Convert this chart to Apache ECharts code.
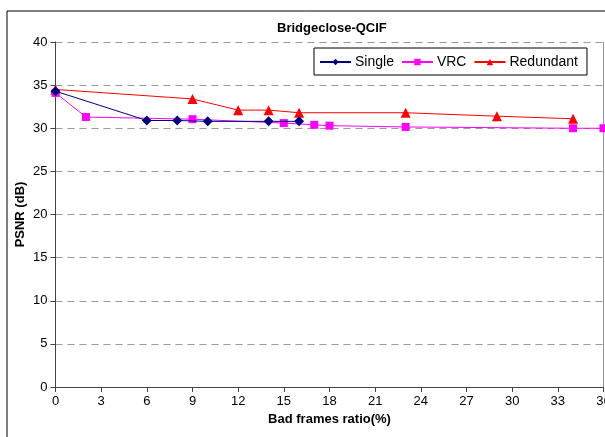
<!DOCTYPE html>
<html>
<head>
<meta charset="utf-8">
<script src="https://cdn.jsdelivr.net/npm/echarts@6/dist/echarts.min.js"></script>
<style>
  html, body { margin: 0; padding: 0; background: #fff; }
  #main { width: 605px; height: 437px; }
</style>
</head>
<body>
<div id="main"></div>
<script>
// data
var singleData = [[0, 34.3], [6, 30.9], [8, 30.9], [10, 30.8], [14, 30.8], [16, 30.8]];
var vrcData = [[0, 34.1], [2, 31.3], [9, 31.05], [15, 30.6], [17, 30.4], [18, 30.3], [23, 30.15], [34, 30.0], [36, 30.0]];
var redundantData = [[0, 34.5], [9, 33.4], [12, 32.1], [14, 32.1], [16, 31.8], [23, 31.8], [29, 31.4], [34, 31.1]];

var font = '"Liberation Sans", Arial, sans-serif';

(function () {
    var chart = echarts.init(document.getElementById('main'));

    chart.setOption({
        animation: false,
        backgroundColor: '#fff',
        textStyle: { fontFamily: font },
        title: {
            text: 'Bridgeclose-QCIF',
            left: 272,
            top: 17,
            textStyle: { fontFamily: font, fontSize: 13, fontWeight: 'bold', color: '#000' }
        },
        // outer chart frame
        graphic: [{
            type: 'rect',
            shape: { x: 7, y: 11, width: 640, height: 460 },
            style: { fill: null, stroke: '#000', lineWidth: 1 },
            silent: true
        }, {
            type: 'line',
            shape: { x1: 603.5, y1: 42, x2: 603.5, y2: 387 },
            style: { stroke: '#999', lineWidth: 1 },
            silent: true
        }],
        legend: {
            data: ['Single', 'VRC', 'Redundant'],
            left: 314,
            top: 48,
            padding: [7, 9, 6, 5],
            itemGap: 7,
            itemWidth: 31,
            itemHeight: 8,
            borderColor: '#000',
            borderWidth: 1,
            backgroundColor: '#fff',
            textStyle: { fontFamily: font, fontSize: 14, color: '#000', padding: [0, 0, 0, -1] }
        },
        grid: {
            left: 55.5,
            right: 1.5,
            top: 42,
            bottom: 50,
            containLabel: false,
            outerBoundsMode: 'none'
        },
        xAxis: {
            type: 'value',
            min: 0,
            max: 36,
            interval: 3,
            name: 'Bad frames ratio(%)',
            nameLocation: 'middle',
            nameGap: 25,
            nameTextStyle: { fontFamily: font, fontSize: 13, fontWeight: 'bold', color: '#000' },
            axisLine: { lineStyle: { color: '#444', width: 1 } },
            axisTick: { show: true, inside: false, length: 5, lineStyle: { color: '#444' } },
            axisLabel: { fontFamily: font, fontSize: 13, color: '#000', margin: 8 },
            splitLine: { show: false }
        },
        yAxis: {
            type: 'value',
            min: 0,
            max: 40,
            interval: 5,
            name: 'PSNR (dB)',
            nameLocation: 'middle',
            nameGap: 29,
            nameMoveOverlap: false,
            nameTextStyle: { fontFamily: font, fontSize: 13, fontWeight: 'bold', color: '#000' },
            axisLine: { show: true, lineStyle: { color: '#444', width: 1 } },
            axisTick: { show: true, inside: false, length: 5, lineStyle: { color: '#444' } },
            axisLabel: { fontFamily: font, fontSize: 13, color: '#000', margin: 8 },
            splitLine: { show: true, lineStyle: { color: '#999', type: [7, 5], width: 1 } }
        },
        series: [{
            name: 'Single',
            type: 'line',
            data: singleData,
            symbol: 'diamond',
            symbolSize: 10,
            color: '#000080',
            lineStyle: { width: 1, color: '#000080' },
            itemStyle: { color: '#000080' },
            z: 4
        }, {
            name: 'VRC',
            type: 'line',
            data: vrcData,
            symbol: 'rect',
            symbolSize: 8,
            color: '#ff00ff',
            lineStyle: { width: 1, color: '#ff00ff' },
            itemStyle: { color: '#ff00ff' },
            z: 3
        }, {
            name: 'Redundant',
            type: 'line',
            data: redundantData,
            symbol: 'triangle',
            symbolSize: 10,
            color: '#ff0000',
            lineStyle: { width: 1, color: '#ff0000' },
            itemStyle: { color: '#ff0000' },
            z: 2
        }]
    });
})();
</script>
</body>
</html>
